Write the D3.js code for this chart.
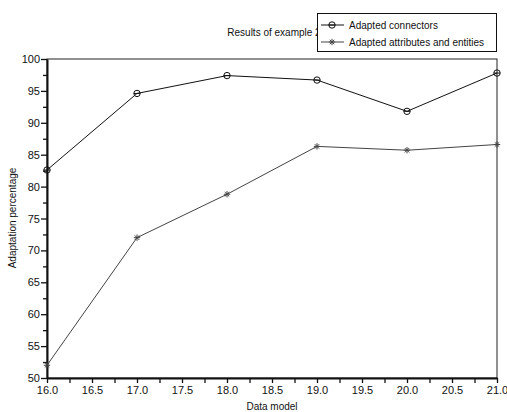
<!DOCTYPE html>
<html><head><meta charset="utf-8">
<script src="https://cdn.jsdelivr.net/npm/d3@7"></script>
<style>body{margin:0;background:#fff}svg{display:block}text{font-family:"Liberation Sans",Arial,sans-serif}</style>
</head><body><svg id="c" width="507" height="412"></svg>
<script>
const xValues = [16, 17, 18, 19, 20, 21];
const connectors = [82.6, 94.6, 97.4, 96.7, 91.8, 97.8];
const attributes = [52.0, 72.0, 78.8, 86.3, 85.7, 86.6];
const seriesNames = ["Adapted connectors", "Adapted attributes and entities"];
const xTickLabels = ["16.0","16.5","17.0","17.5","18.0","18.5","19.0","19.5","20.0","20.5","21.0"];
const yTickLabels = [50,55,60,65,70,75,80,85,90,95,100];
const title = "Results of example 2";
const xLabel = "Data model", yLabel = "Adaptation percentage";

const svg = d3.select("#c");
const L = 47, R = 497, T = 59, B = 378;
const x = d3.scaleLinear().domain([16, 21]).range([L, R]);
const y = d3.scaleLinear().domain([50, 100]).range([B, T]);

// title
svg.append("text").attr("x", 274).attr("y", 36).attr("text-anchor","middle")
  .attr("font-size", 10).attr("fill","#111").text(title);

// frame
svg.append("rect").attr("x", L).attr("y", T).attr("width", R-L).attr("height", B-T)
  .attr("fill","none").attr("stroke","#222").attr("stroke-width",1);

// axes
const minorX = d3.range(16, 21.001, 0.25);
const gx = svg.append("g").attr("transform", `translate(0,${B})`)
  .call(d3.axisBottom(x).tickValues(minorX).tickSize(5).tickSizeOuter(0)
    .tickFormat(d => Math.abs(d*2 - Math.round(d*2)) < 1e-6 ? xTickLabels[Math.round((d-16)*2)] : ""));
gx.select(".domain").attr("stroke","#111").attr("stroke-width",2);
gx.selectAll(".tick line").attr("stroke","#111").attr("stroke-width",1.3);
gx.selectAll(".tick text").attr("font-size",11).attr("font-family","Liberation Sans, Arial, sans-serif").attr("fill","#111").attr("dy","0.72em").attr("y",8);

const minorY = d3.range(50, 100.001, 2.5);
const gy = svg.append("g").attr("transform", `translate(${L},0)`)
  .call(d3.axisLeft(y).tickValues(minorY).tickSizeOuter(0)
    .tickFormat(d => d % 5 === 0 ? String(yTickLabels[(d-50)/5]) : ""));
gy.select(".domain").attr("stroke","#111").attr("stroke-width",2);
gy.selectAll(".tick line").attr("stroke","#111").attr("stroke-width",1.3)
  .attr("x2", d => d % 5 === 0 ? -6 : -4);
gy.selectAll(".tick text").attr("font-size",11).attr("font-family","Liberation Sans, Arial, sans-serif").attr("fill","#111").attr("x",-7);

// axis labels
svg.append("text").attr("x", 272).attr("y", 410).attr("text-anchor","middle")
  .attr("font-size",10).attr("fill","#111").text(xLabel);
svg.append("text").attr("transform","translate(16,218) rotate(-90)").attr("text-anchor","middle")
  .attr("font-size",10).attr("fill","#111").text(yLabel);

const line = d3.line().x((d,i) => x(xValues[i])).y(d => y(d));

function circleMarker(g, cx, cy, color){
  g.append("circle").attr("cx",cx).attr("cy",cy).attr("r",3.2).attr("fill","none").attr("stroke",color).attr("stroke-width",1);
  g.append("line").attr("x1",cx-3.2).attr("x2",cx+3.2).attr("y1",cy).attr("y2",cy).attr("stroke",color).attr("stroke-width",1);
}
function starMarker(g, cx, cy, color){
  const s = 3.2;
  [[-s,0,s,0],[0,-s,0,s],[-s*0.7,-s*0.7,s*0.7,s*0.7],[-s*0.7,s*0.7,s*0.7,-s*0.7]].forEach(a=>{
    g.append("line").attr("x1",cx+a[0]).attr("y1",cy+a[1]).attr("x2",cx+a[2]).attr("y2",cy+a[3])
      .attr("stroke",color).attr("stroke-width",1);
  });
}

const colors = ["#111", "#444"];
svg.append("path").datum(connectors).attr("d", line).attr("fill","none").attr("stroke",colors[0]).attr("stroke-width",1);
svg.append("path").datum(attributes).attr("d", line).attr("fill","none").attr("stroke",colors[1]).attr("stroke-width",1);
const mg = svg.append("g");
connectors.forEach((v,i) => circleMarker(mg, x(xValues[i]), y(v), colors[0]));
attributes.forEach((v,i) => starMarker(mg, x(xValues[i]), y(v), colors[1]));

// legend
const lg = svg.append("g");
lg.append("rect").attr("x",317.5).attr("y",13.5).attr("width",179).attr("height",38)
  .attr("fill","#fff").attr("stroke","#111").attr("stroke-width",1);
[0,1].forEach(i => {
  const ly = 25 + i*17;
  lg.append("line").attr("x1",321).attr("x2",344).attr("y1",ly).attr("y2",ly).attr("stroke",colors[i]).attr("stroke-width",1);
  if (i===0) circleMarker(lg, 332, ly, colors[0]); else starMarker(lg, 332, ly, colors[1]);
  lg.append("text").attr("x",349).attr("y",ly+3.5).attr("font-size",10).attr("fill","#111").text(seriesNames[i]);
});
</script></body></html>
